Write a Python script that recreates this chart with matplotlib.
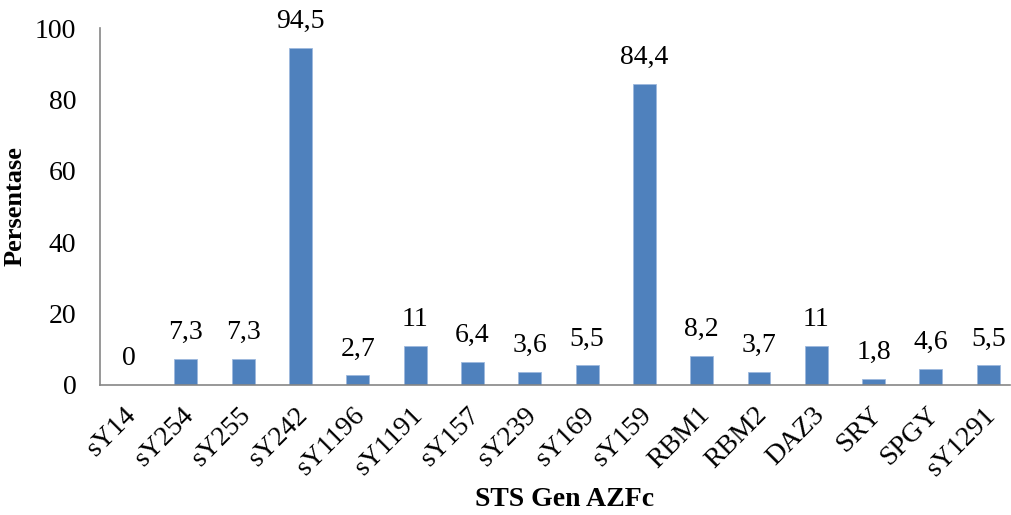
import matplotlib
matplotlib.use("Agg")
import matplotlib.pyplot as plt
from matplotlib.transforms import ScaledTranslation

categories = ["sY14", "sY254", "sY255", "sY242", "sY1196", "sY1191", "sY157", "sY239",
              "sY169", "sY159", "RBM1", "RBM2", "DAZ3", "SRY", "SPGY", "sY1291"]
values = [0, 7.3, 7.3, 94.5, 2.7, 11, 6.4, 3.6, 5.5, 84.4, 8.2, 3.7, 11, 1.8, 4.6, 5.5]
yticks = [0, 20, 40, 60, 80, 100]

plt.rcParams["font.family"] = ["Liberation Serif", "DejaVu Serif"]

fig = plt.figure(figsize=(10.11, 5.15), dpi=100)
ax = fig.add_axes([100 / 1011, 130 / 515, 910 / 1011, 357 / 515])

x = list(range(len(categories)))
ax.bar(x, values, width=0.4, color="#4F81BD", edgecolor="#9DB9DD", linewidth=0.6, zorder=2)

for xi, v in zip(x, values):
    label = f"{v:g}".replace(".", ",")
    ax.annotate(label, (xi, v), xytext=(0, 10), textcoords="offset points",
                ha="center", va="bottom", fontsize=20)

ax.set_xlim(-0.5, 15.38)
ax.set_ylim(0, 100)
ax.set_yticks(yticks)
ax.tick_params(axis="y", length=0, pad=17, labelsize=20)
ax.set_xticks(x)
ax.set_xticklabels(categories, rotation=45, ha="right", va="center",
                   rotation_mode="anchor", fontsize=20)
ax.tick_params(axis="x", length=0, pad=19)
shift = ScaledTranslation(3 / 72, 0, fig.dpi_scale_trans)
for lbl in ax.get_xticklabels():
    lbl.set_transform(lbl.get_transform() + shift)

for side in ("top", "right"):
    ax.spines[side].set_visible(False)
for side in ("left", "bottom"):
    ax.spines[side].set_color("#868686")
    ax.spines[side].set_linewidth(1.2)

ax.set_ylabel("Persentase", fontsize=19, fontweight="bold", labelpad=6)
ax.set_xlabel("STS Gen AZFc", fontsize=20, fontweight="bold")
ax.xaxis.set_label_coords(0.51, -0.285)

fig.savefig("out.png", dpi=100)
